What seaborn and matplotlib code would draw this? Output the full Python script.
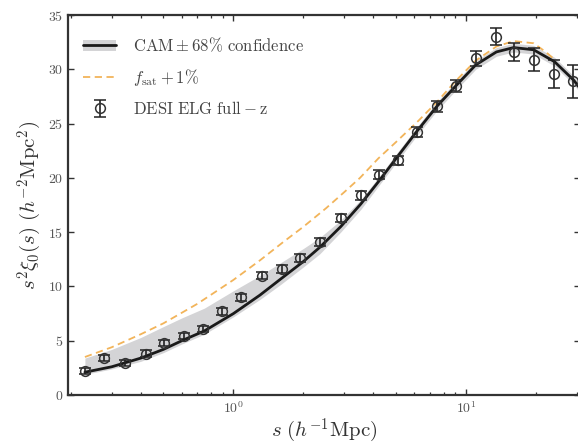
import numpy as np
import pandas as pd
import matplotlib
matplotlib.use("Agg")
import matplotlib.pyplot as plt
import seaborn as sns
from matplotlib.patches import Patch
from matplotlib.lines import Line2D

# ---- data ----
s_data = [0.23, 0.278, 0.342, 0.42, 0.505, 0.615, 0.743, 0.897, 1.08, 1.33, 1.61,
          1.94, 2.35, 2.89, 3.53, 4.22, 5.09, 6.15, 7.5, 9.06, 11.0, 13.5, 16.1,
          19.6, 23.9, 28.9]
xi_data = [2.2, 3.4, 2.95, 3.8, 4.8, 5.45, 6.1, 7.7, 9.0, 11.0, 11.6, 12.6, 14.1,
           16.3, 18.4, 20.3, 21.6, 24.2, 26.6, 28.5, 31.0, 33.0, 31.6, 30.9, 29.6, 28.9]
xi_err = [0.3, 0.3, 0.3, 0.3, 0.3, 0.3, 0.3, 0.3, 0.3, 0.35, 0.35, 0.35, 0.35,
          0.35, 0.4, 0.4, 0.4, 0.45, 0.5, 0.55, 0.7, 0.8, 0.8, 1.1, 1.3, 1.5]

s_model = [0.23, 0.3, 0.4, 0.5, 0.6, 0.75, 1.0, 1.3, 1.6, 2.0, 2.35, 2.89, 3.53,
           4.22, 5.09, 6.15, 7.5, 9.06, 11.0, 13.5, 16.0, 19.5, 24.0, 29.0, 31.0]
xi_model = [2.1, 2.6, 3.4, 4.2, 5.0, 5.9, 7.5, 9.2, 10.7, 12.3, 13.6, 15.5, 17.6,
            19.7, 22.0, 24.3, 26.6, 28.5, 30.4, 31.6, 32.0, 31.8, 30.7, 29.0, 28.2]
band_lo = [1.9, 2.4, 3.1, 3.9, 4.7, 5.6, 7.2, 8.8, 10.2, 11.8, 13.0, 15.0, 17.1,
           19.3, 21.6, 23.9, 26.2, 28.1, 30.0, 31.2, 31.6, 31.4, 30.3, 28.6, 27.8]
band_hi = [3.4, 4.2, 5.3, 6.3, 7.1, 8.0, 9.6, 11.0, 12.2, 13.5, 14.5, 16.1, 18.0,
           20.1, 22.4, 24.7, 27.0, 28.9, 30.8, 32.0, 32.4, 32.2, 31.1, 29.4, 28.6]

s_fsat = [0.23, 0.3, 0.4, 0.5, 0.7, 1.0, 1.3, 1.64, 2.0, 2.5, 3.0, 3.5, 4.2, 5.0,
          6.2, 7.5, 9.0, 11.0, 13.5, 16.0, 19.5, 22.0, 24.0]
xi_fsat = [3.5, 4.4, 5.6, 6.6, 8.4, 10.6, 12.4, 14.1, 15.5, 17.2, 18.7, 20.0, 21.8,
           23.3, 25.2, 27.0, 28.9, 30.8, 32.1, 32.6, 32.4, 31.6, 30.9]

labels = [r'$\mathrm{CAM} \pm 68\%\ \mathrm{confidence}$',
          r'$f_{\rm sat} + 1\%$',
          r'$\mathrm{DESI\ ELG\ full} - \mathrm{z}$']

# ---- style ----
sns.set_theme(style="ticks")
plt.rcParams.update({
    "font.family": "serif",
    "font.serif": ["cmr10", "DejaVu Serif"],
    "mathtext.fontset": "cm",
    "axes.formatter.use_mathtext": True,
    "axes.unicode_minus": False,
})

fig = plt.figure(figsize=(5.78, 4.48), dpi=100)
ax = fig.add_axes([0.1176, 0.1183, 0.8860, 0.8482])

df_model = pd.DataFrame({"s": s_model, "xi": xi_model})
df_fsat = pd.DataFrame({"s": s_fsat, "xi": xi_fsat})

ax.fill_between(s_model, band_lo, band_hi, color="#d4d4d6", lw=0, zorder=1)
sns.lineplot(data=df_model, x="s", y="xi", ax=ax, color="#1a1a1a", lw=2.0, zorder=3)
sns.lineplot(data=df_fsat, x="s", y="xi", ax=ax, color="#f2b45a", lw=1.3,
             linestyle=(0, (4, 2.5)), zorder=2)
eb = ax.errorbar(s_data, xi_data, yerr=xi_err, fmt="o", mfc="none", mec="#333333",
                 ms=7, mew=1.1, ecolor="#222222", elinewidth=1.2, capsize=4,
                 capthick=1.2, zorder=4)

ax.set_xscale("log")
ax.set_xlim(0.1945, 30.9)
ax.set_ylim(0, 35)
ax.set_yticks(range(0, 36, 5))

for sp in ax.spines.values():
    sp.set_linewidth(1.6)
    sp.set_color("#333333")
ax.tick_params(which="both", direction="in", top=True, right=True, colors="#333333",
               labelcolor="#555555", labelsize=10)
ax.tick_params(which="major", length=4, width=1.0)
ax.tick_params(which="minor", length=2.5, width=0.9)

ax.set_xlabel(r'$s\ (h^{-1}\mathrm{Mpc})$', fontsize=15, color="#333333", labelpad=1)
ax.set_ylabel(r'$s^2\xi_0(s)\ (h^{-2}\mathrm{Mpc}^2)$', fontsize=15, color="#333333",
              labelpad=3)

h1 = (Patch(facecolor="#d4d4d6", edgecolor="none"),
      Line2D([], [], color="#1a1a1a", lw=2.0))
h2 = Line2D([], [], color="#f2b45a", lw=1.3, linestyle=(0, (4, 2.5)))
leg = ax.legend([h1, h2, eb], labels, loc="upper left", frameon=False, fontsize=12,
                labelspacing=0.75, handlelength=2.0, handletextpad=1.0,
                bbox_to_anchor=(0.0, 0.985))
for t in leg.get_texts():
    t.set_color("#444444")

fig.savefig("out.png", dpi=100)
